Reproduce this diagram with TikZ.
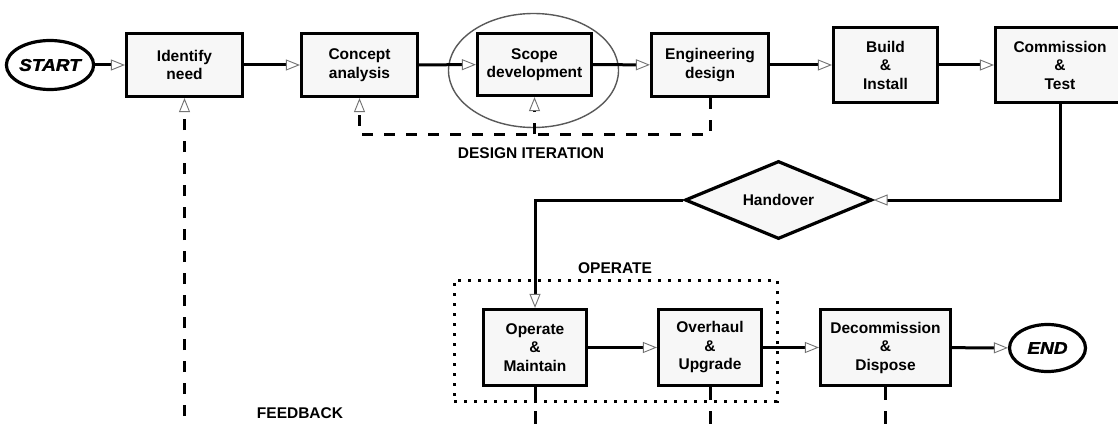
\documentclass[tikz,border=0pt]{standalone}
\usepackage{fontspec}
\setmainfont{Liberation Sans}
\newfontfamily\termfont[BoldItalicFeatures={FakeBold=1.5,FakeStretch=1.12}]{Liberation Sans}
\usepackage{tikz}
\usetikzlibrary{arrows.meta,shapes.geometric}

\begin{document}
\begin{tikzpicture}[x=1pt,y=-1pt,
  stage/.style={draw,line width=3.2pt,fill=black!3,align=center,inner sep=0pt,
    font=\bfseries\fontsize{15.5}{18.5}\selectfont},
  terminal/.style={draw,ellipse,line width=3.2pt,fill=white,inner sep=0pt,
    font=\termfont\bfseries\itshape\fontsize{17}{18}\selectfont},
  label/.style={font=\bfseries\fontsize{15.5}{18}\selectfont},
  flow/.style={line width=3pt,-{Triangle[fill=white,color=black!55,length=14pt,width=11pt,line width=0.9pt]}},
  iter/.style={flow,dash pattern=on 11pt off 11pt},
  drop/.style={line width=3pt,dash pattern=on 13pt off 11pt}]

\useasboundingbox (0,0) rectangle (1118,425);
\fill[white] (0,0) rectangle (1118,425);

% Design stages, top row.
\node[terminal,minimum width=75pt,minimum height=49pt] (start) at (50,65) {START};
\node[stage,minimum width=116pt,minimum height=63pt] (identify) at (184.5,65) {Identify\\need};
\node[stage,minimum width=116pt,minimum height=63pt] (concept) at (359.5,65) {Concept\\analysis};
\node[stage,minimum width=114pt,minimum height=62pt] (scope) at (534.5,64.5) {Scope\\development};
\node[stage,minimum width=117pt,minimum height=63pt] (engineering) at (710,65) {Engineering\\design};
\node[stage,minimum width=104pt,minimum height=75pt] (build) at (885.5,65) {Build\\\&\\Install};
\node[stage,minimum width=129pt,minimum height=75pt] (commission) at (1060,65) {Commission\\\&\\Test};

% ring round the scope stage
\node[draw=black!65,ellipse,line width=1.4pt,minimum width=170pt,minimum height=114pt] (scopering) at (533.5,70.5) {};

\node[draw,diamond,line width=3.2pt,fill=black!3,inner sep=0pt,aspect=2.4,
  minimum width=187pt,minimum height=78pt,font=\bfseries\fontsize{15.5}{18}\selectfont] (handover) at (778.5,200) {Handover};

% Operation stages, bottom row.
\node[draw,line width=3pt,dash pattern=on 3pt off 7pt,minimum width=323pt,minimum height=121pt] (operatezone) at (615.5,340.5) {};
\node[stage,minimum width=103pt,minimum height=76pt] (operate) at (535,347.5) {Operate\\\&\\Maintain};
\node[stage,minimum width=103pt,minimum height=76pt] (overhaul) at (710,347.5) {Overhaul\\\&\\Upgrade};
\node[stage,minimum width=130pt,minimum height=76pt] (decommission) at (885.5,347.5) {Decommission\\\&\\Dispose};
\node[terminal,minimum width=76pt,minimum height=47pt] (end) at (1047.5,348) {END};

\node[label] (iterlabel) at (531,153) {DESIGN ITERATION};
\node[label] (operatelabel) at (615,268) {OPERATE};
\node[label] (feedbacklabel) at (300,413) {FEEDBACK};

% Main flow.
\draw[flow] (start) -- (identify);
\draw[flow] (identify) -- (concept);
\draw[flow] (concept) -- (scope);
\draw[flow] (scope) -- (engineering);
\draw[flow] (engineering) -- (build);
\draw[flow] (build) -- (commission);
\draw[flow] (commission.south) |- (handover.east);
\draw[flow] (handover.west) -| (operate.north);
\draw[flow] (operate) -- (overhaul);
\draw[flow] (overhaul) -- (decommission);
\draw[flow] (decommission) -- (end);

% Design iteration loop, dashed.
\draw[iter] (engineering.south) -- ++(0,36.5) -| (concept.south);
\draw[iter] (scope.south) ++(0,37) -- (scope.south);

% Feedback lines, running off below.
\draw[iter] (identify.south) ++(0,340) -- (identify.south);
\draw[drop] (operate.south) -- ++(0,50);
\draw[drop] (overhaul.south) -- ++(0,50);
\draw[drop] (decommission.south) -- ++(0,50);

\end{tikzpicture}
\end{document}
